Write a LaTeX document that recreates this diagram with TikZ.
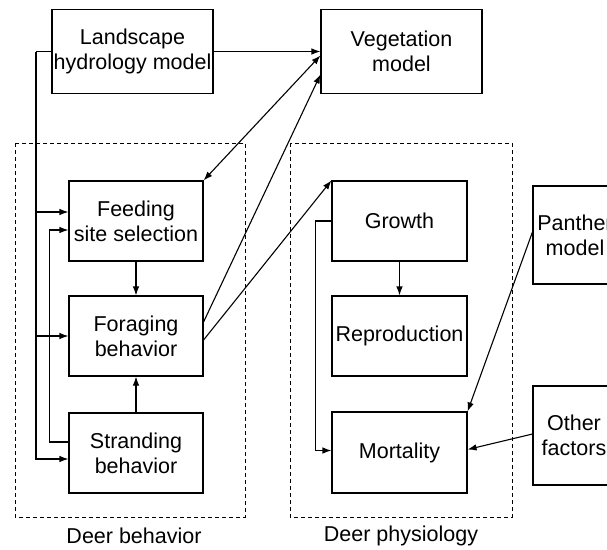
\documentclass[tikz,border=0pt]{standalone}
\usepackage{fontspec}
\setmainfont{Liberation Sans}
\usetikzlibrary{arrows.meta,calc}
\begin{document}
\begin{tikzpicture}[x=1pt,y=-1pt,
  box/.style={draw,line width=1.1pt,inner sep=0pt,align=center,font=\fontsize{21.5}{25}\selectfont},
  arr/.style={line width=1.1pt,-{Latex[length=9pt,width=6.5pt]}},
  darr/.style={line width=1.1pt,{Latex[length=9pt,width=6.5pt]}-{Latex[length=9pt,width=6.5pt]}},
  ln/.style={line width=1.1pt},
  group/.style={draw,line width=0.9pt,dash pattern=on 4pt off 3pt},
  lab/.style={font=\fontsize{21.5}{25}\selectfont}]
\useasboundingbox (0,0) rectangle (607,549);
\clip (0,0) rectangle (607,549);
\fill[white] (0,0) rectangle (607,549);
% groups
\draw[group] (15,143) rectangle (245,517);
\draw[group] (290,143) rectangle (512,517);
\node[lab] (lbeh) at (134,536) {Deer behavior};
\node[lab] (lphy) at (401,536) {Deer physiology};
% boxes
\node[box,minimum width=161pt,minimum height=84pt] (land) at (132.5,51.5) {Landscape\\hydrology model};
\node[box,minimum width=161pt,minimum height=84pt] (veg) at (401.5,51.5) {Vegetation\\model};
\node[box,minimum width=134pt,minimum height=80pt] (feed) at (136,221) {Feeding\\site selection};
\node[box,minimum width=134pt,minimum height=80pt] (forage) at (136,336) {Foraging\\behavior};
\node[box,minimum width=134pt,minimum height=80pt] (strand) at (136,453) {Stranding\\behavior};
\node[box,minimum width=135pt,minimum height=80pt] (grow) at (399.5,221) {Growth};
\node[box,minimum width=135pt,minimum height=80pt] (repro) at (399.5,336) {Reproduction};
\node[box,minimum width=135pt,minimum height=81pt] (mort) at (399.5,452.5) {Mortality};
\node[box,minimum width=84pt,minimum height=98pt] (panther) at (575,235) {Panther\\model};
\node[box,minimum width=82pt,minimum height=99pt] (other) at (574,435.5) {Other\\factors};
% helper coordinates
\coordinate (bx) at (36,51.5);
\coordinate (f1) at ([yshift=9pt]feed.west);
\coordinate (f2) at ([yshift=-9pt]feed.west);
\coordinate (s1) at ([yshift=11pt]strand.west);
\coordinate (s2) at ([yshift=-6pt]strand.west);
% connectors
\draw[arr] (land.east) -- (land.east -| veg.west);
\draw[ln] (land.west) -- (bx);
\draw[arr] (bx) |- (s2);
\draw[arr] (bx |- f1) -- (f1);
\draw[arr] (bx |- forage.west) -- (forage.west);
\draw[arr] (s1) -- ++(-19,0) |- (f2);
\draw[arr] (feed.south) -- (forage.north);
\draw[arr] (strand.north) -- (forage.south);
\draw[darr] (feed.north east) -- ([yshift=-4pt]veg.west);
\draw[arr] ([yshift=14pt]forage.east) -- ([yshift=-23pt]veg.west);
\draw[arr] ([yshift=-4pt]forage.east) -- (grow.north west);
\draw[arr] (grow.south) -- (repro.north);
\draw[arr] (grow.west) -- ++(-16,0) |- ([yshift=2pt]mort.west);
\draw[arr] ([yshift=3pt]panther.west) -- (mort.north east);
\draw[arr] ([yshift=1.5pt]other.west) -- ([yshift=3pt]mort.east);
\end{tikzpicture}
\end{document}
